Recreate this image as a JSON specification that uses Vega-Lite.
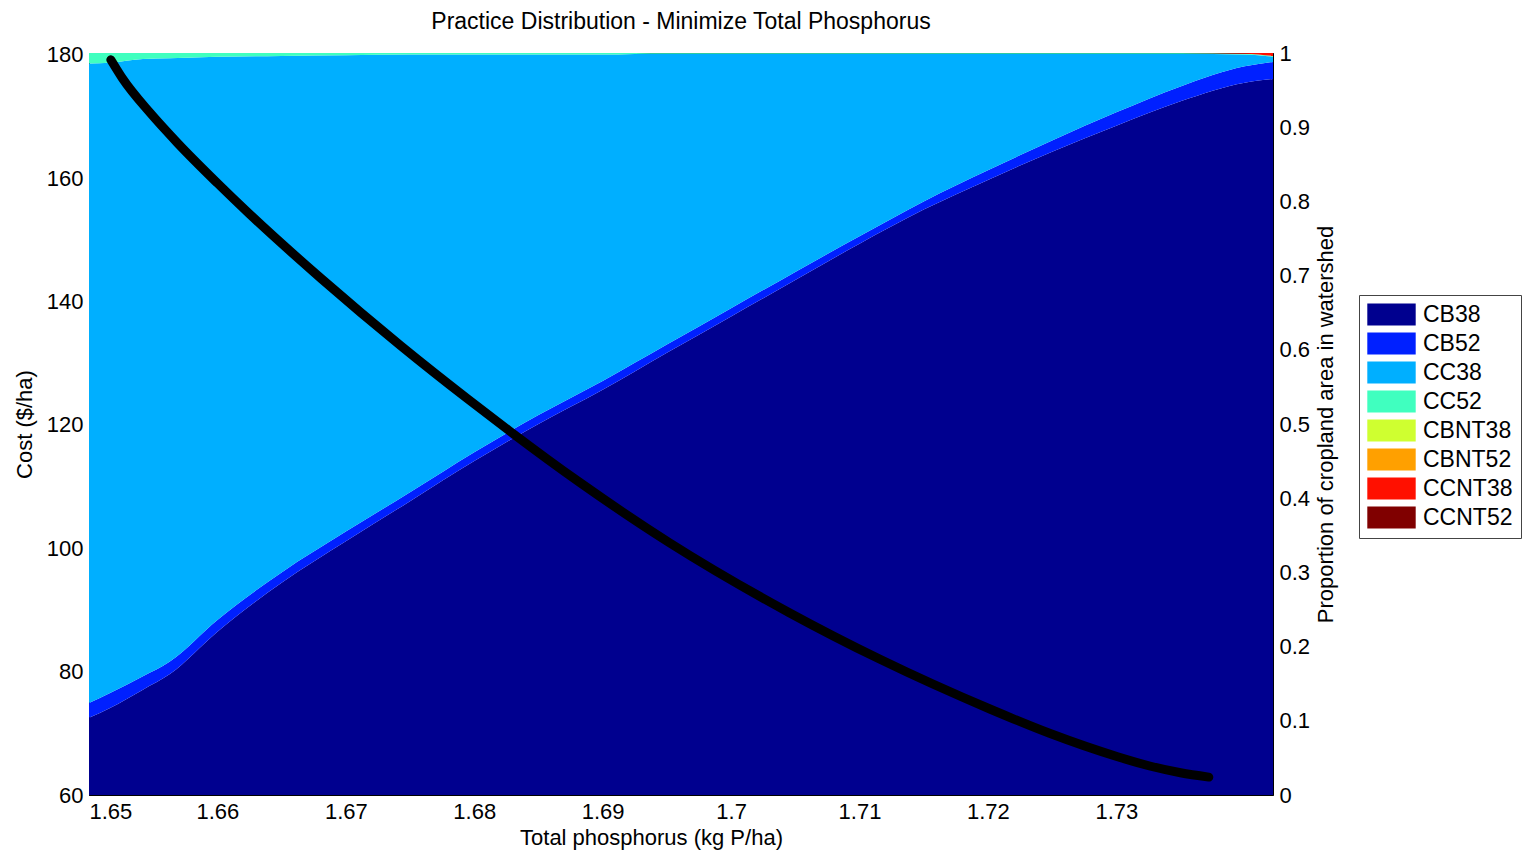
{
  "$schema": "https://vega.github.io/schema/vega-lite/v6.json",
  "width": 1184,
  "height": 742,
  "autosize": {"type": "none"},
  "padding": {"left": 89, "top": 53, "right": 253, "bottom": 57},
  "background": "white",
  "title": {"text": "Practice Distribution - Minimize Total Phosphorus", "fontSize": 23, "fontWeight": "normal", "font": "Liberation Sans", "color": "black", "offset": 8, "anchor": "middle"},
  "config": {
    "font": "Liberation Sans",
    "view": {"stroke": "black", "strokeWidth": 1},
    "axis": {
      "labelFontSize": 22, "labelColor": "black", "titleFontSize": 22, "titleFontWeight": "normal", "titleColor": "black",
      "domain": false, "grid": false, "tickColor": "black", "tickSize": -8, "labelPadding": 14, "labelFont": "Liberation Sans", "titleFont": "Liberation Sans"
    },
    "legend": {"labelFont": "Liberation Sans"}
  },
  "datasets": {
    "practices": [
      {"p": 1.65, "CB38": 0.104, "CB52": 0.020, "CC38": 0.862, "CC52": 0.014, "CBNT38": 0, "CBNT52": 0, "CCNT38": 0, "CCNT52": 0},
      {"p": 1.6516, "CB38": 0.117, "CB52": 0.020, "CC38": 0.850, "CC52": 0.013, "CBNT38": 0, "CBNT52": 0, "CCNT38": 0, "CCNT52": 0},
      {"p": 1.6542, "CB38": 0.142, "CB52": 0.018, "CC38": 0.832, "CC52": 0.008, "CBNT38": 0, "CBNT52": 0, "CCNT38": 0, "CCNT52": 0},
      {"p": 1.6563, "CB38": 0.163, "CB52": 0.017, "CC38": 0.813, "CC52": 0.007, "CBNT38": 0, "CBNT52": 0, "CCNT38": 0, "CCNT52": 0},
      {"p": 1.66, "CB38": 0.220, "CB52": 0.016, "CC38": 0.759, "CC52": 0.005, "CBNT38": 0, "CBNT52": 0, "CCNT38": 0, "CCNT52": 0},
      {"p": 1.665, "CB38": 0.286, "CB52": 0.014, "CC38": 0.696, "CC52": 0.004, "CBNT38": 0, "CBNT52": 0, "CCNT38": 0, "CCNT52": 0},
      {"p": 1.67, "CB38": 0.342, "CB52": 0.013, "CC38": 0.642, "CC52": 0.003, "CBNT38": 0, "CBNT52": 0, "CCNT38": 0, "CCNT52": 0},
      {"p": 1.675, "CB38": 0.396, "CB52": 0.012, "CC38": 0.590, "CC52": 0.002, "CBNT38": 0, "CBNT52": 0, "CCNT38": 0, "CCNT52": 0},
      {"p": 1.68, "CB38": 0.450, "CB52": 0.012, "CC38": 0.536, "CC52": 0.002, "CBNT38": 0, "CBNT52": 0, "CCNT38": 0, "CCNT52": 0},
      {"p": 1.685, "CB38": 0.500, "CB52": 0.012, "CC38": 0.486, "CC52": 0.002, "CBNT38": 0, "CBNT52": 0, "CCNT38": 0, "CCNT52": 0},
      {"p": 1.69, "CB38": 0.546, "CB52": 0.012, "CC38": 0.440, "CC52": 0.002, "CBNT38": 0, "CBNT52": 0, "CCNT38": 0, "CCNT52": 0},
      {"p": 1.695, "CB38": 0.596, "CB52": 0.011, "CC38": 0.392, "CC52": 0.001, "CBNT38": 0, "CBNT52": 0, "CCNT38": 0, "CCNT52": 0},
      {"p": 1.70, "CB38": 0.645, "CB52": 0.011, "CC38": 0.343, "CC52": 0.001, "CBNT38": 0, "CBNT52": 0, "CCNT38": 0, "CCNT52": 0},
      {"p": 1.705, "CB38": 0.694, "CB52": 0.011, "CC38": 0.294, "CC52": 0.001, "CBNT38": 0, "CBNT52": 0, "CCNT38": 0, "CCNT52": 0},
      {"p": 1.71, "CB38": 0.743, "CB52": 0.010, "CC38": 0.246, "CC52": 0.001, "CBNT38": 0, "CBNT52": 0, "CCNT38": 0, "CCNT52": 0},
      {"p": 1.715, "CB38": 0.789, "CB52": 0.011, "CC38": 0.199, "CC52": 0.001, "CBNT38": 0, "CBNT52": 0, "CCNT38": 0, "CCNT52": 0},
      {"p": 1.72, "CB38": 0.829, "CB52": 0.013, "CC38": 0.157, "CC52": 0.001, "CBNT38": 0, "CBNT52": 0, "CCNT38": 0, "CCNT52": 0},
      {"p": 1.725, "CB38": 0.867, "CB52": 0.015, "CC38": 0.117, "CC52": 0.001, "CBNT38": 0, "CBNT52": 0, "CCNT38": 0, "CCNT52": 0},
      {"p": 1.73, "CB38": 0.902, "CB52": 0.018, "CC38": 0.079, "CC52": 0.001, "CBNT38": 0, "CBNT52": 0, "CCNT38": 0, "CCNT52": 0},
      {"p": 1.735, "CB38": 0.935, "CB52": 0.020, "CC38": 0.044, "CC52": 0.001, "CBNT38": 0, "CBNT52": 0, "CCNT38": 0, "CCNT52": 0},
      {"p": 1.74, "CB38": 0.960, "CB52": 0.022, "CC38": 0.016, "CC52": 0.001, "CBNT38": 0, "CBNT52": 0, "CCNT38": 0.001, "CCNT52": 0},
      {"p": 1.7422, "CB38": 0.965, "CB52": 0.023, "CC38": 0.007, "CC52": 0.001, "CBNT38": 0, "CBNT52": 0, "CCNT38": 0.004, "CCNT52": 0}
    ],
    "cost": [
      {"p": 1.6517, "cost": 179.2},
      {"p": 1.6526, "cost": 176.2},
      {"p": 1.6548, "cost": 170.5},
      {"p": 1.6569, "cost": 165.7},
      {"p": 1.6600, "cost": 159.2},
      {"p": 1.6625, "cost": 154.2},
      {"p": 1.6681, "cost": 143.7},
      {"p": 1.6743, "cost": 132.8},
      {"p": 1.6795, "cost": 124.2},
      {"p": 1.6827, "cost": 119.1},
      {"p": 1.6882, "cost": 110.7},
      {"p": 1.6952, "cost": 100.9},
      {"p": 1.7045, "cost": 89.6},
      {"p": 1.7116, "cost": 82.0},
      {"p": 1.7202, "cost": 73.9},
      {"p": 1.7248, "cost": 70.0},
      {"p": 1.7301, "cost": 66.2},
      {"p": 1.7326, "cost": 64.7},
      {"p": 1.7350, "cost": 63.6},
      {"p": 1.7372, "cost": 62.9}
    ]
  },
  "layer": [
    {
      "data": {"name": "practices"},
      "transform": [
        {"fold": ["CB38", "CB52", "CC38", "CC52", "CBNT38", "CBNT52", "CCNT38", "CCNT52"], "as": ["practice", "share"]},
        {"calculate": "indexof(['CB38','CB52','CC38','CC52','CBNT38','CBNT52','CCNT38','CCNT52'], datum.practice)", "as": "k"}
      ],
      "mark": {"type": "area", "interpolate": "monotone"},
      "encoding": {
        "x": {"field": "p", "type": "quantitative", "scale": {"domain": [1.65, 1.7422], "nice": false, "zero": false},
              "axis": {"values": [1.65, 1.66, 1.67, 1.68, 1.69, 1.7, 1.71, 1.72, 1.73], "format": ".2~f", "title": "Total phosphorus (kg P/ha)", "titlePadding": 5, "titleX": 562}},
        "y": {"field": "share", "type": "quantitative", "stack": "zero", "scale": {"domain": [0, 1], "nice": false},
              "axis": {"orient": "right", "values": [0, 0.1, 0.2, 0.3, 0.4, 0.5, 0.6, 0.7, 0.8, 0.9, 1], "format": ".1~f", "title": "Proportion of cropland area in watershed", "titleAngle": 270, "titleBaseline": "top", "titlePadding": 6}},
        "color": {"field": "practice", "type": "nominal",
                  "scale": {"domain": ["CB38", "CB52", "CC38", "CC52", "CBNT38", "CBNT52", "CCNT38", "CCNT52"],
                            "range": ["#00008f", "#0020ff", "#00afff", "#40ffbf", "#cfff30", "#ffa000", "#ff1000", "#800000"]},
                  "legend": {"title": null, "orient": "none", "legendX": 1270, "legendY": 242,
                             "symbolType": "M-2.2,-1H2.2V1H-2.2Z", "symbolSize": 484, "symbolStrokeWidth": 0, "symbolOpacity": 1,
                             "symbolOffset": 13, "labelOffset": 20, "labelFontSize": 23, "labelColor": "black",
                             "rowPadding": 5, "padding": 8, "strokeColor": "#444444", "fillColor": "white"}},
        "order": {"field": "k", "type": "quantitative", "sort": "ascending"}
      }
    },
    {
      "data": {"name": "cost"},
      "mark": {"type": "line", "color": "black", "strokeWidth": 9, "strokeCap": "round", "strokeJoin": "round", "interpolate": "monotone"},
      "encoding": {
        "x": {"field": "p", "type": "quantitative", "scale": {"domain": [1.65, 1.7422], "nice": false, "zero": false},
              "axis": {"values": [1.65, 1.66, 1.67, 1.68, 1.69, 1.7, 1.71, 1.72, 1.73], "format": ".2~f", "title": "Total phosphorus (kg P/ha)", "titlePadding": 5, "titleX": 562}},
        "y": {"field": "cost", "type": "quantitative", "scale": {"domain": [60, 180.3], "nice": false, "zero": false},
              "axis": {"orient": "left", "values": [60, 80, 100, 120, 140, 160, 180], "title": "Cost ($/ha)", "titlePadding": 10}}
      }
    }
  ],
  "resolve": {"scale": {"y": "independent"}}
}
